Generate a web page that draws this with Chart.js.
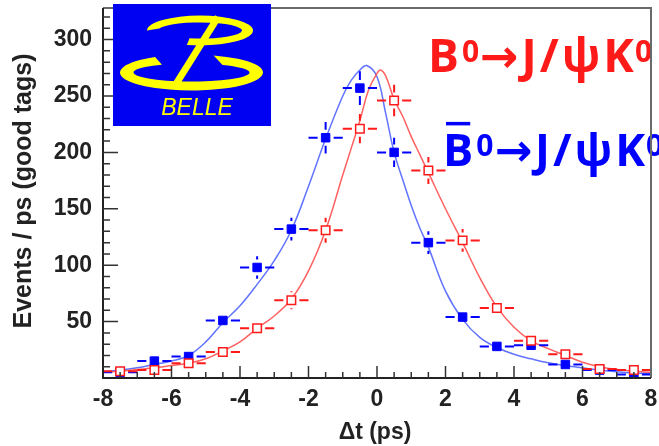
<!DOCTYPE html>
<html>
<head>
<meta charset="utf-8">
<script src="https://cdn.jsdelivr.net/npm/chart.js@4"></script>
<style>
  body { margin: 0; background: #fff; }
  #dtChart { display: block; }
</style>
</head>
<body>
<canvas id="dtChart" width="659" height="446"></canvas>
<script>
// decay-time difference, 1 ps bins
const binCenters = [-7.5, -6.5, -5.5, -4.5, -3.5, -2.5, -1.5, -0.5, 0.5, 1.5, 2.5, 3.5, 4.5, 5.5, 6.5, 7.5]
const binHalfWidth = 0.5
const barEvents = [5, 15, 19, 51, 98, 132, 213, 257, 200, 120, 54, 28, 29, 12, 7, 3]
const barErr    = [2, 3, 4, 6, 10, 10, 14, 15, 13, 10, 7, 5, 5, 3, 2, 2]
const bEvents   = [6, 7, 13, 23, 44, 69, 131, 221, 246, 184, 122, 62, 33, 21, 8, 7]
const bErr      = [3, 3, 3, 4, 6, 8, 11, 13, 14, 12, 10, 7, 5, 4, 3, 3]

// fitted curves
const barFitT = [-8, -7.5, -7, -6.5, -6, -5.5, -5, -4.5, -4, -3.5, -3, -2.5, -2, -1.5, -1, -0.75, -0.5, -0.3, 0, 0.25, 0.5, 0.75, 1, 1.25, 1.5, 2, 2.5, 3, 3.5, 4, 4.5, 5, 5.5, 6, 6.5, 7, 7.5, 8]
const barFit  = [5.5, 7, 9, 12, 15, 20, 32, 49, 64, 83, 104, 131, 170, 212, 250, 264, 273, 277, 267, 235, 200, 176, 153, 133, 116, 77, 52, 36, 27, 21, 17, 13.5, 11, 9, 7, 5.5, 4.5, 4]
const bFitT   = [-8, -7.5, -7, -6.5, -6, -5.5, -5, -4.5, -4, -3.5, -3, -2.5, -2, -1.5, -1, -0.75, -0.5, -0.25, 0, 0.1, 0.25, 0.5, 0.75, 1, 1.25, 1.5, 2, 2.5, 3, 3.5, 4, 4.5, 5, 5.5, 6, 6.5, 7, 7.5, 8]
const bFit    = [5, 6, 7.5, 9, 11, 13, 17, 24, 32, 44, 55, 70, 95, 131, 180, 204, 228, 255, 270, 273, 268, 247, 232, 214, 198, 182, 150, 120, 89, 63, 45, 33, 26, 20, 14, 10, 7.5, 6, 5]

const xTicks = [-8, 8, 2]      // min, max, step
const yRange = [0, 328]

const BLUE = '#0000ff'
const RED = '#ff1a1a'
const LBL = '"Liberation Sans", Arial, sans-serif'

function pts(xs, ys){
  return xs.map((x, i) => ({x: x, y: ys[i]}))
}

// error bars, frame, inside ticks, titles, logo and decay labels
const decor = {
  id: 'decor',
  afterDatasetsDraw(chart){
    const ctx = chart.ctx
    const x = chart.scales.x, y = chart.scales.y
    const sets = [[barEvents, barErr, BLUE, 6], [bEvents, bErr, RED, 6]]
    ctx.save()
    ctx.lineWidth = 2
    sets.forEach(([vals, errs, col, gap]) => {
      ctx.strokeStyle = col
      ctx.beginPath()
      binCenters.forEach((c, i) => {
        const px = x.getPixelForValue(c), py = y.getPixelForValue(vals[i])
        const xl = x.getPixelForValue(c - binHalfWidth), xr = x.getPixelForValue(c + binHalfWidth)
        ctx.moveTo(xl, py); ctx.lineTo(px - gap - 2, py)
        ctx.moveTo(px + gap + 2, py); ctx.lineTo(xr, py)
        const yt = y.getPixelForValue(vals[i] + errs[i]), yb = y.getPixelForValue(vals[i] - errs[i])
        if (py - yt > gap + 2) { ctx.moveTo(px, yt); ctx.lineTo(px, py - gap - 2) }
        if (yb - py > gap + 2) { ctx.moveTo(px, py + gap + 2); ctx.lineTo(px, yb) }
      })
      ctx.stroke()
    })
    ctx.restore()
  },
  afterDraw(chart){
    const ctx = chart.ctx
    const a = chart.chartArea
    const x = chart.scales.x, y = chart.scales.y
    ctx.save()

    // decay labels
    drawDecay(ctx, 428, 72, RED, false, 46)
    drawDecay(ctx, 443, 166, BLUE, true, 45)

    // frame
    ctx.lineWidth = 2
    ctx.strokeStyle = '#6a6a6a'
    ctx.beginPath()
    ctx.moveTo(a.left, a.top); ctx.lineTo(a.right, a.top); ctx.lineTo(a.right, a.bottom)
    ctx.stroke()
    ctx.strokeStyle = '#222'
    ctx.beginPath()
    ctx.moveTo(a.left, a.top); ctx.lineTo(a.left, a.bottom); ctx.lineTo(a.right, a.bottom)
    ctx.stroke()

    // ticks pointing inside
    ctx.lineWidth = 1.5
    ctx.strokeStyle = '#333'
    ctx.beginPath()
    for (let v = 10; v < yRange[1]; v += 10) {
      const py = y.getPixelForValue(v)
      ctx.moveTo(a.left, py); ctx.lineTo(a.left + (v % 50 == 0 ? 15 : 7), py)
    }
    for (let t = xTicks[0] + 0.5; t < xTicks[1]; t += 0.5) {
      const px = x.getPixelForValue(t)
      ctx.moveTo(px, a.bottom); ctx.lineTo(px, a.bottom - (t % 2 == 0 ? 12 : 6))
    }
    ctx.stroke()

    // axis titles
    ctx.fillStyle = '#222'
    ctx.font = 'bold 23px ' + LBL
    ctx.textAlign = 'center'
    ctx.textBaseline = 'middle'
    ctx.fillText('\u0394t (ps)', 375, 433)
    ctx.font = 'bold 25px ' + LBL
    ctx.translate(24, 191)
    ctx.rotate(-Math.PI / 2)
    ctx.fillText('Events / ps (good tags)', 0, 0)
    ctx.restore()

    drawLogo(ctx)
  }
}

function drawDecay(ctx, x0, base, color, bar, size){
  const big = 'bold ' + size + 'px "Open Sans", sans-serif'
  const small = 'bold ' + Math.round(size * 0.66) + 'px "Open Sans", sans-serif'
  let x = x0
  ctx.fillStyle = color
  ctx.textAlign = 'left'
  ctx.textBaseline = 'alphabetic'
  ctx.font = big
  ctx.fillText('B', x, base)
  const bw = ctx.measureText('B').width
  if (bar) ctx.fillRect(x + 3, base - size * 0.98, bw - 6, 3.5)
  x += bw + 3
  ctx.font = small
  ctx.fillText('0', x, base - size * 0.22)
  x += ctx.measureText('0').width + 1
  ctx.font = 'bold ' + size + 'px "DejaVu Sans", sans-serif'
  ctx.fillText('\u2192', x, base)
  x += ctx.measureText('\u2192').width + 3
  ctx.font = big
  for (const ch of ['J', '/', '\u03c8', 'K']) {
    ctx.fillText(ch, x, base)
    x += ctx.measureText(ch).width + 3
  }
  ctx.font = small
  ctx.fillText('0', x - 2, base - size * 0.22)
}

function drawLogo(ctx){
  ctx.save()
  ctx.fillStyle = '#0000f2'
  ctx.fillRect(113, 4, 158, 122)
  ctx.fillStyle = '#ffff00'
  // upper bowl
  ring(ctx, 200, 30.5, 53, 15, 42, 8, Math.PI, Math.PI * 2.58)
  // lower bowl
  ring(ctx, 191.5, 72.5, 71.5, 18, 58, 9, Math.PI * 1.6, Math.PI * 3.33)
  // slanted stem
  ctx.strokeStyle = '#ffff00'
  ctx.lineWidth = 7
  ctx.beginPath()
  ctx.moveTo(218, 17); ctx.lineTo(176, 84)
  ctx.stroke()
  ctx.font = 'italic 23px ' + LBL
  ctx.textAlign = 'center'
  ctx.textBaseline = 'alphabetic'
  ctx.fillText('BELLE', 197, 115)
  ctx.restore()
}

function ring(ctx, cx, cy, rx, ry, irx, iry, a0, a1){
  ctx.beginPath()
  ctx.ellipse(cx, cy, rx, ry, 0, a0, a1)
  ctx.ellipse(cx, cy, irx, iry, 0, a1, a0 + 0.25, true)
  ctx.closePath()
  ctx.fill()
}

new Chart(document.getElementById('dtChart'), {
  type: 'scatter',
  data: {
    datasets: [
      {
        type: 'line',
        label: 'B0bar fit',
        data: pts(barFitT, barFit),
        borderColor: 'rgba(80,100,255,0.9)',
        borderWidth: 1.5,
        pointRadius: 0,
        tension: 0.4,
        fill: false,
        order: 3
      },
      {
        type: 'line',
        label: 'B0 fit',
        data: pts(bFitT, bFit),
        borderColor: 'rgba(255,80,80,0.9)',
        borderWidth: 1.5,
        pointRadius: 0,
        tension: 0.4,
        fill: false,
        order: 2
      },
      {
        label: 'B0bar',
        data: pts(binCenters, barEvents),
        pointStyle: 'rect',
        pointRadius: 6,
        backgroundColor: BLUE,
        borderColor: BLUE,
        borderWidth: 1,
        order: 1
      },
      {
        label: 'B0',
        data: pts(binCenters, bEvents),
        pointStyle: 'rect',
        pointRadius: 6,
        backgroundColor: '#fff',
        borderColor: RED,
        borderWidth: 1.5,
        order: 0
      }
    ]
  },
  options: {
    responsive: false,
    animation: false,
    devicePixelRatio: 1,
    layout: { padding: { left: 0, top: 8, right: 8, bottom: 0 } },
    plugins: {
      legend: { display: false },
      tooltip: { enabled: false }
    },
    scales: {
      x: {
        type: 'linear',
        min: xTicks[0],
        max: xTicks[1],
        grid: { display: false },
        border: { display: false },
        ticks: {
          stepSize: xTicks[2],
          autoSkip: false,
          maxRotation: 0,
          padding: 0,
          color: '#222',
          font: { family: LBL, size: 23, weight: 'bold' }
        },
        afterFit: s => { s.height = 68; s.paddingLeft = 0; s.paddingRight = 0 }
      },
      y: {
        type: 'linear',
        bounds: 'data',
        min: yRange[0],
        max: yRange[1],
        grid: { display: false },
        border: { display: false },
        ticks: {
          stepSize: 50,
          autoSkip: false,
          padding: 3,
          color: '#222',
          font: { family: LBL, size: 23, weight: 'bold' },
          callback: v => (v == 0 || v % 50 != 0) ? '' : v
        },
        afterFit: s => { s.width = 103; s.paddingTop = 0; s.paddingBottom = 0 }
      }
    }
  },
  plugins: [decor]
})
</script>
</body>
</html>
